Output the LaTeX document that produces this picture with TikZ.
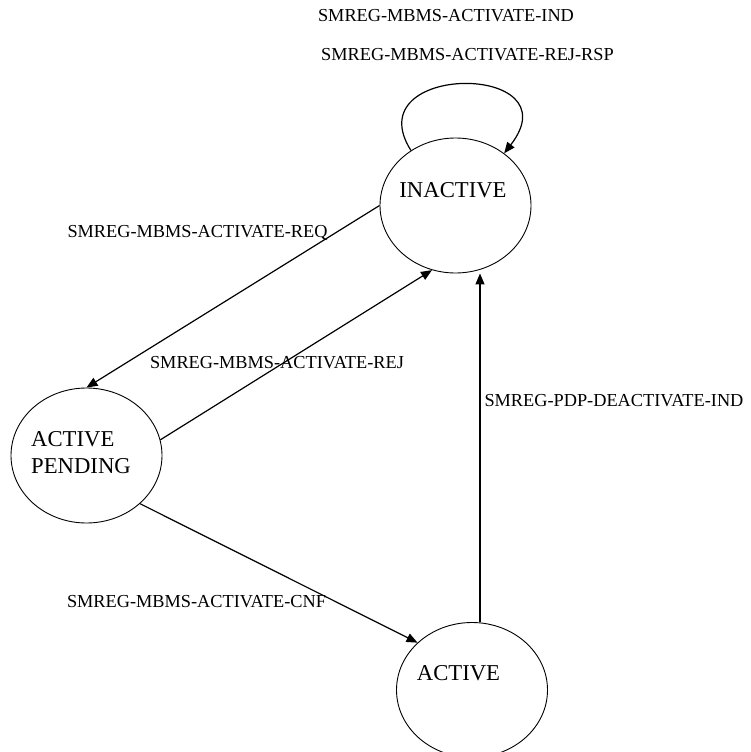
\documentclass[tikz,border=0pt]{standalone}
\usepackage{fontspec}
\setmainfont{Liberation Serif}
\usetikzlibrary{shapes.geometric,arrows.meta}
\tikzset{
  state/.style={ellipse, draw, minimum width=151pt, minimum height=135pt, inner sep=0pt, line width=0.9pt},
  statetext/.style={font=\fontsize{22.7}{27}\selectfont, inner sep=0pt},
  lbl/.style={font=\fontsize{18.3}{22}\selectfont, inner sep=0pt},
  arr/.style={line width=1.2pt, -{Triangle[length=11pt,width=9pt]}}
}
\begin{document}
\begin{tikzpicture}[x=1pt,y=-1pt]
\useasboundingbox (0,0) rectangle (750,752);
% states
\node[state] (inactive) at (455.5,205.5) {};
\node[state] (pending) at (86.5,455.5) {};
\node[state] (active) at (472,690) {};
\node[statetext] (inactivetxt) at (453,190) {INACTIVE};
\node[statetext, anchor=west, align=left] (pendingtxt) at (31,452.5) {ACTIVE\\PENDING};
\node[statetext] (activetxt) at (458.5,673) {ACTIVE};
% connectors
\draw[arr] (inactive.129) .. controls (355,62) and (575,62) .. (inactive.47);
\draw[arr] (inactive.west) -- (pending.north);
\draw[arr] (pending.12) -- (inactive.250);
\draw[arr] (pending.318) -- (active.139);
\coordinate (vx) at (480,0);
\draw[arr] (active.north -| vx) -- (inactive.south -| vx);
% labels
\node[lbl] (l1) at (446,16) {SMREG-MBMS-ACTIVATE-IND};
\node[lbl] (l2) at (467.5,55) {SMREG-MBMS-ACTIVATE-REJ-RSP};
\node[lbl] (l3) at (197.5,233) {SMREG-MBMS-ACTIVATE-REQ};
\node[lbl] (l4) at (277,363) {SMREG-MBMS-ACTIVATE-REJ};
\node[lbl] (l5) at (614,401) {SMREG-PDP-DEACTIVATE-IND};
\node[lbl] (l6) at (196.5,602) {SMREG-MBMS-ACTIVATE-CNF};
\end{tikzpicture}
\end{document}
